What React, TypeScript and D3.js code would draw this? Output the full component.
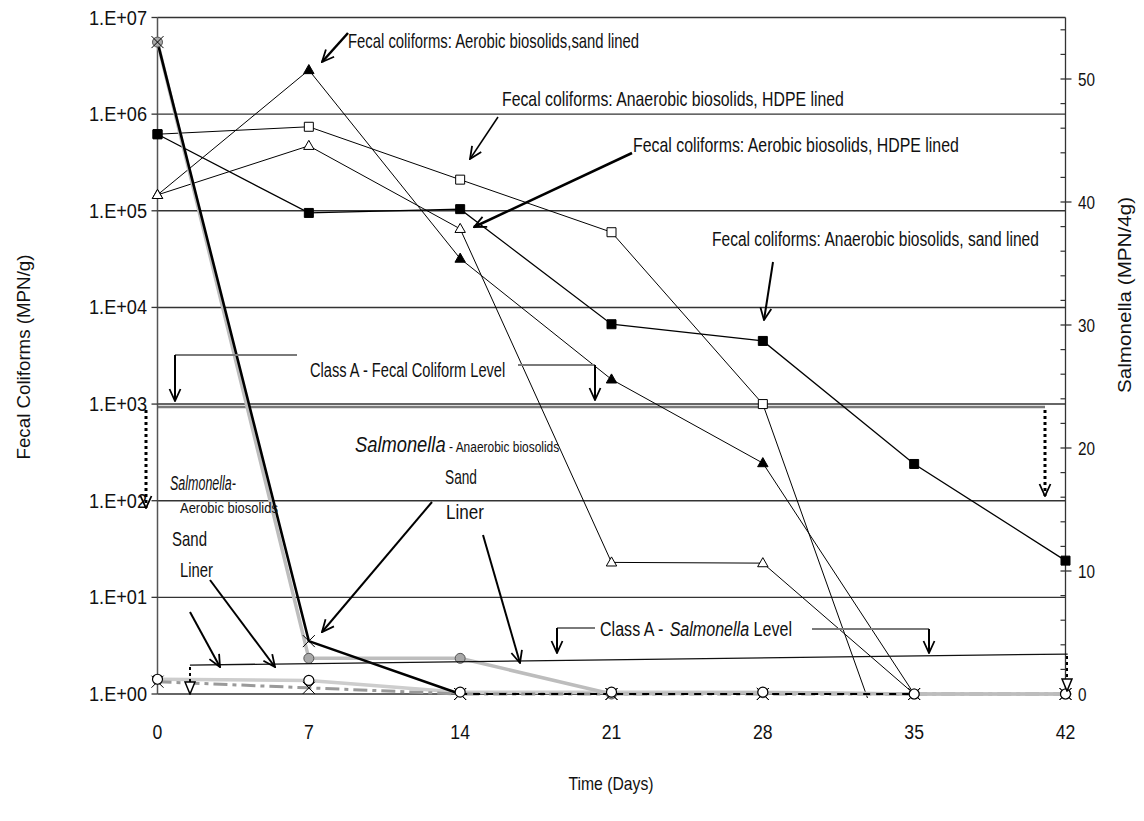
import React from "react";
import * as d3 from "d3";

const W = 1144;
const H = 821;

// Sampling days
const days = [0, 7, 14, 21, 28, 35, 42];

// Fecal coliforms (MPN/g), log axis
const fcAerobicSand = [1.46e5, 2.86e6, 3.2e4, 1.8e3, 245, 1];
const fcAnaerobicHdpe = [6.2e5, 7.4e5, 2.1e5, 6.0e4, 1.0e3, 0.04];
const fcAerobicHdpe = [1.46e5, 4.7e5, 6.5e4, 23, 22.6, 1];
const fcAnaerobicSand = [6.2e5, 9.5e4, 1.04e5, 6.7e3, 4.5e3, 240, 24];

// Salmonella (MPN/4g), linear axis
const salAnaerobicSand = [53, 4.3, 0, 0, 0, 0, 0];
const salAerobicSand = [53, 2.9, 2.9, 0, 0.1, 0, 0];
const salAnaerobicHdpe = [1.2, 1.1, 0.15, 0.15, 0.15, 0, 0];
const salAerobicHdpe = [1.0, 0.5, 0, 0, 0, 0, 0];

// Class A limits
const classAFecal = 1000;
const classASalmonellaEnds: [number, number][] = [
  [1.5, 2.35],
  [42.1, 3.25],
];

// Axis ticks
const leftTicks = [1, 10, 100, 1e3, 1e4, 1e5, 1e6, 1e7];
const leftTickLabels = ["1.E+00", "1.E+01", "1.E+02", "1.E+03", "1.E+04", "1.E+05", "1.E+06", "1.E+07"];
const rightTicks = [0, 10, 20, 30, 40, 50];
const rightTickLabels = ["0", "10", "20", "30", "40", "50"];
const xTickLabels = ["0", "7", "14", "21", "28", "35", "42"];

const plot = { left: 157.5, right: 1065.5, top: 17.5, bottom: 694 };

const NARROW = "'Liberation Sans Narrow','Arial Narrow','Liberation Sans',Arial,sans-serif";
const REG = "'Liberation Sans',Arial,sans-serif";

const TRI = "M0,-5.5L5.2,3.6L-5.2,3.6Z";
const SQ = "M-4.5,-4.5h9v9h-9Z";
const XM = "M-6,-6L6,6M-6,6L6,-6";

type Piece = { s: string; fs: number; italic?: boolean };
type Txt = { parts: Piece[]; x: number; y: number; len: number };

// Callout texts
const labels: Txt[] = [
  { parts: [{ s: "Fecal coliforms: Aerobic biosolids,sand lined", fs: 21 }], x: 348, y: 48, len: 292 },
  { parts: [{ s: "Fecal coliforms: Anaerobic biosolids, HDPE lined", fs: 21 }], x: 502, y: 106, len: 343 },
  { parts: [{ s: "Fecal coliforms: Aerobic biosolids, HDPE lined", fs: 21 }], x: 633, y: 152, len: 327 },
  { parts: [{ s: "Fecal coliforms: Anaerobic biosolids, sand lined", fs: 21 }], x: 712, y: 246, len: 328 },
  { parts: [{ s: "Class A - Fecal Coliform Level", fs: 21 }], x: 310, y: 377, len: 197 },
  {
    parts: [
      { s: "Class A - ", fs: 21 },
      { s: "Salmonella", fs: 21, italic: true },
      { s: " Level", fs: 21 },
    ],
    x: 600,
    y: 636,
    len: 192,
  },
  {
    parts: [
      { s: "Salmonella", fs: 23, italic: true },
      { s: " - Anaerobic biosolids", fs: 15 },
    ],
    x: 355,
    y: 452,
    len: 205,
  },
  { parts: [{ s: "Sand", fs: 21 }], x: 445, y: 484, len: 32 },
  { parts: [{ s: "Liner", fs: 21 }], x: 446, y: 519, len: 38 },
  { parts: [{ s: "Salmonella-", fs: 21, italic: true }], x: 170, y: 490, len: 66 },
  { parts: [{ s: "Aerobic biosolids", fs: 15 }], x: 180, y: 513, len: 98 },
  { parts: [{ s: "Sand", fs: 21 }], x: 172, y: 546, len: 35 },
  { parts: [{ s: "Liner", fs: 21 }], x: 180, y: 577, len: 33 },
];

type Arrow = { x1: number; y1: number; x2: number; y2: number; w: number };
const arrows: Arrow[] = [
  { x1: 348, y1: 33, x2: 322, y2: 62, w: 2.5 },
  { x1: 498, y1: 117, x2: 470, y2: 159, w: 1.5 },
  { x1: 632, y1: 153, x2: 474, y2: 227, w: 2.5 },
  { x1: 773, y1: 262, x2: 764, y2: 320, w: 2 },
  { x1: 432, y1: 502, x2: 322, y2: 632, w: 2 },
  { x1: 483, y1: 535, x2: 520, y2: 663, w: 2 },
  { x1: 190, y1: 612, x2: 220, y2: 667, w: 2 },
  { x1: 210, y1: 580, x2: 275, y2: 667, w: 2 },
  { x1: 175, y1: 355, x2: 175, y2: 401, w: 2 },
  { x1: 595, y1: 365, x2: 595, y2: 400, w: 2 },
  { x1: 557, y1: 628, x2: 557, y2: 653, w: 2 },
  { x1: 929, y1: 629, x2: 929, y2: 653, w: 2 },
];

const dottedArrows: Arrow[] = [
  { x1: 146, y1: 410, x2: 146, y2: 508, w: 3 },
  { x1: 1045, y1: 410, x2: 1045, y2: 496, w: 3 },
  { x1: 190, y1: 667, x2: 190, y2: 694, w: 2 },
  { x1: 1067, y1: 656, x2: 1067, y2: 691, w: 2 },
];

const brackets: [number, number, number, number][] = [
  [175, 355, 297, 355],
  [518, 365, 595, 365],
  [557, 628, 595, 628],
  [812, 629, 929, 629],
];

// Natural text width, used to squeeze callouts horizontally to their set width
let measureCtx: CanvasRenderingContext2D | null = null;
function textWidth(s: string, fs: number, italic?: boolean): number {
  if (!measureCtx && typeof document !== "undefined") {
    measureCtx = document.createElement("canvas").getContext("2d");
  }
  if (!measureCtx) return s.length * fs * 0.45;
  measureCtx.font = `${italic ? "italic " : ""}${fs}px ${NARROW}`;
  return measureCtx.measureText(s).width;
}

function Callout({ l }: { l: Txt }) {
  const widths = l.parts.map((p) => textWidth(p.s, p.fs, p.italic));
  const total = widths.reduce((a, b) => a + b, 0);
  const sx = l.len / total;
  let cursor = l.x;
  return (
    <g>
      {l.parts.map((p, j) => {
        const body = p.s.trim();
        const lead = p.s.length - p.s.trimStart().length;
        const leadW = lead > 0 ? textWidth(p.s.slice(0, lead), p.fs, p.italic) : 0;
        const px = cursor + leadW * sx;
        cursor += widths[j] * sx;
        return (
          <text
            key={j}
            transform={`translate(${px},${l.y}) scale(${sx},1)`}
            fontSize={p.fs}
            fontStyle={p.italic ? "italic" : "normal"}
            fontFamily={NARROW}
            fill="#111"
          >
            {body}
          </text>
        );
      })}
    </g>
  );
}

export default function App() {
  const x = d3.scaleLinear().domain([0, 42]).range([plot.left, plot.right]);
  const yL = d3.scaleLog().domain([1, 1e7]).range([plot.bottom, plot.top]);
  const yR = d3.scaleLinear().domain([0, 55]).range([plot.bottom, plot.top]);

  const lineL = d3
    .line<number>()
    .x((_, i) => x(days[i]))
    .y((v) => yL(v));
  const lineR = d3
    .line<[number, number]>()
    .x((d) => x(d[0]))
    .y((d) => yR(d[1]));

  const pairs = (vals: number[], from = 0, to = vals.length) =>
    vals.map((v, i) => [days[i], v] as [number, number]).slice(from, to);

  const fecal = [
    { vals: fcAerobicSand, marker: TRI, fill: "#000", w: 1 },
    { vals: fcAnaerobicHdpe, marker: SQ, fill: "#fff", w: 1 },
    { vals: fcAerobicHdpe, marker: TRI, fill: "#fff", w: 1 },
    { vals: fcAnaerobicSand, marker: SQ, fill: "#000", w: 1.3 },
  ];

  const rightMinor = d3.range(0, 55, 2).filter((v) => v % 10 !== 0);

  return (
    <svg
      width={W}
      height={H}
      style={{ position: "absolute", left: 0, top: 0, background: "#fff" }}
      xmlns="http://www.w3.org/2000/svg"
    >
      <defs>
        <clipPath id="plotClip">
          <rect x={plot.left} y={plot.top - 2} width={plot.right - plot.left} height={plot.bottom - plot.top + 6} />
        </clipPath>
        <marker id="vhead" viewBox="0 0 14 14" refX="13" refY="7" markerWidth="14" markerHeight="14" markerUnits="userSpaceOnUse" orient="auto">
          <path d="M1,1.5L13,7L1,12.5" fill="none" stroke="#000" strokeWidth="1.8" />
        </marker>
        <marker id="thead" viewBox="0 0 14 12" refX="13" refY="6" markerWidth="14" markerHeight="12" markerUnits="userSpaceOnUse" orient="auto">
          <path d="M1,1L13,6L1,11Z" fill="#fff" stroke="#000" strokeWidth="1.5" />
        </marker>
      </defs>
      <rect width={W} height={H} fill="#fff" />

      {/* gridlines */}
      {leftTicks.map((v) => (
        <line key={"g" + v} x1={plot.left} x2={plot.right} y1={yL(v)} y2={yL(v)} stroke="#333" strokeWidth={1.4} />
      ))}

      {/* class A fecal coliform level */}
      <line x1={plot.left} x2={1045} y1={yL(classAFecal) + 3} y2={yL(classAFecal) + 3} stroke="#7a7a7a" strokeWidth={2.5} />

      {/* left axis */}
      <line x1={plot.left} x2={plot.left} y1={plot.top} y2={plot.bottom} stroke="#555" strokeWidth={1.5} />
      {leftTicks.map((v, i) => (
        <g key={"lt" + v}>
          <line x1={plot.left - 6} x2={plot.left} y1={yL(v)} y2={yL(v)} stroke="#333" strokeWidth={1.3} />
          <text x={147} y={yL(v) + 7} textAnchor="end" fontSize={20} fontFamily={NARROW} fill="#111" textLength={58} lengthAdjust="spacingAndGlyphs">
            {leftTickLabels[i]}
          </text>
        </g>
      ))}

      {/* right axis */}
      <line x1={plot.right} x2={plot.right} y1={plot.top} y2={plot.bottom} stroke="#333" strokeWidth={1.3} />
      {rightMinor.map((v) => (
        <line key={"rm" + v} x1={plot.right - 5} x2={plot.right} y1={yR(v)} y2={yR(v)} stroke="#333" strokeWidth={1.2} />
      ))}
      {rightTicks.map((v, i) => (
        <g key={"rt" + v}>
          <line x1={plot.right - 5} x2={plot.right + 6} y1={yR(v)} y2={yR(v)} stroke="#333" strokeWidth={1.3} />
          <text x={1078} y={yR(v) + 7} fontSize={19} fontFamily={NARROW} fill="#111" textLength={rightTickLabels[i].length * 8.5} lengthAdjust="spacingAndGlyphs">
            {rightTickLabels[i]}
          </text>
        </g>
      ))}

      {/* x tick labels */}
      {days.map((d, i) => (
        <text key={"xt" + d} x={x(d)} y={739} textAnchor="middle" fontSize={20} fontFamily={NARROW} fill="#111" textLength={xTickLabels[i].length * 9.8} lengthAdjust="spacingAndGlyphs">
          {xTickLabels[i]}
        </text>
      ))}

      {/* axis titles */}
      <text transform="translate(30,357) rotate(-90)" textAnchor="middle" fontSize={18} fontFamily={REG} fill="#111" textLength={205} lengthAdjust="spacingAndGlyphs">
        Fecal Coliforms (MPN/g)
      </text>
      <text transform="translate(1131,295) rotate(-90)" textAnchor="middle" fontSize={19} fontFamily={REG} fill="#111" textLength={196} lengthAdjust="spacingAndGlyphs">
        Salmonella (MPN/4g)
      </text>
      <text x={611} y={790} textAnchor="middle" fontSize={19} fontFamily={NARROW} fill="#111" textLength={85} lengthAdjust="spacingAndGlyphs">
        Time (Days)
      </text>

      {/* fecal coliform series */}
      <g clipPath="url(#plotClip)">
        {fecal.map((s, k) => (
          <path key={"fl" + k} d={lineL(s.vals) || ""} fill="none" stroke="#000" strokeWidth={s.w} />
        ))}
      </g>
      {fecal.map((s, k) =>
        s.vals.map((v, i) =>
          v > 1 ? (
            <path key={`fm${k}-${i}`} d={s.marker} transform={`translate(${x(days[i])},${yL(v)})`} fill={s.fill} stroke="#000" strokeWidth={1} />
          ) : null
        )
      )}

      {/* salmonella series lines */}
      <path d={lineR(pairs(salAnaerobicHdpe)) || ""} fill="none" stroke="#cdcdcd" strokeWidth={3.5} />
      <path d={lineR(pairs(salAerobicHdpe)) || ""} fill="none" stroke="#9a9a9a" strokeWidth={3} strokeDasharray="14,5,4,5" />
      <path d={lineR(pairs(salAerobicSand)) || ""} fill="none" stroke="#bdbdbd" strokeWidth={3.5} />
      <path d={lineR(pairs(salAnaerobicSand, 2, 6)) || ""} fill="none" stroke="#000" strokeWidth={2} strokeDasharray="7,6" />
      <path d={lineR(pairs(salAnaerobicSand, 0, 3)) || ""} fill="none" stroke="#000" strokeWidth={2.6} />

      {/* salmonella markers */}
      {salAerobicSand.map((v, i) => (
        <circle key={"sc" + i} cx={x(days[i])} cy={yR(v)} r={5} fill="#a8a8a8" stroke="#555" strokeWidth={1} />
      ))}
      {salAnaerobicSand.map((v, i) => (
        <path key={"sx" + i} d={XM} transform={`translate(${x(days[i])},${yR(v)})`} stroke="#000" strokeWidth={1} fill="none" />
      ))}
      {salAerobicHdpe.map((v, i) => (
        <path key={"hx" + i} d={XM} transform={`translate(${x(days[i])},${yR(v)})`} stroke="#000" strokeWidth={1} fill="none" />
      ))}
      {salAnaerobicHdpe.map((v, i) => (
        <circle key={"hc" + i} cx={x(days[i])} cy={yR(v)} r={5} fill="#fff" stroke="#000" strokeWidth={1.2} />
      ))}

      {/* class A salmonella level */}
      <line
        x1={x(classASalmonellaEnds[0][0])}
        y1={yR(classASalmonellaEnds[0][1])}
        x2={x(classASalmonellaEnds[1][0])}
        y2={yR(classASalmonellaEnds[1][1])}
        stroke="#111"
        strokeWidth={1.3}
      />

      {/* brackets and callout arrows */}
      {brackets.map((b, i) => (
        <line key={"b" + i} x1={b[0]} y1={b[1]} x2={b[2]} y2={b[3]} stroke="#7a7a7a" strokeWidth={2} />
      ))}
      {arrows.map((a, i) => (
        <line key={"a" + i} x1={a.x1} y1={a.y1} x2={a.x2} y2={a.y2} stroke="#000" strokeWidth={a.w} markerEnd="url(#vhead)" />
      ))}
      {dottedArrows.map((a, i) => (
        <line key={"da" + i} x1={a.x1} y1={a.y1} x2={a.x2} y2={a.y2} stroke="#000" strokeWidth={a.w} strokeDasharray="3,3" markerEnd={i < 2 ? "url(#vhead)" : "url(#thead)"} />
      ))}

      {/* callout texts */}
      {labels.map((l, i) => (
        <Callout key={"t" + i} l={l} />
      ))}
    </svg>
  );
}
